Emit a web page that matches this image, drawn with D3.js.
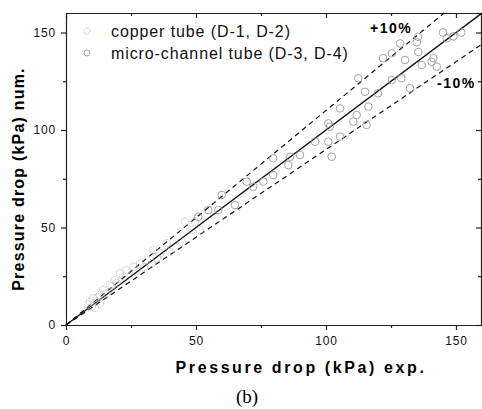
<!DOCTYPE html>
<html>
<head>
<meta charset="utf-8">
<script src="https://cdn.jsdelivr.net/npm/d3@7"></script>
<style>
  body { margin: 0; background: #fff; }
  svg { display: block; font-family: "Liberation Sans", Arial, sans-serif; }
  .axis path, .axis line { stroke: #222; stroke-width: 1.2; }
  .axis text { font-size: 12px; fill: #111; letter-spacing: 0.8px; }
</style>
</head>
<body>
<div id="chart"></div>
<script>
// tick values
const majorTicks = [0, 50, 100, 150];
const minorTicks = [25, 75, 125];

// [exp, num] pairs
const copperTube = [
  [9.2, 11.9], [9.9, 9.4], [10.5, 13.7], [11.8, 11.9], [13.1, 11.1], [13.1, 15.4],
  [14.3, 17.9], [16.9, 20.5], [18.8, 23.1], [20.8, 26.5], [23.3, 28.2], [25.9, 29.9],
  [28.5, 31.6], [31, 33.3], [33, 31.6], [33.6, 38.5], [36.2, 36.8], [38.7, 41.9],
  [40, 37.6], [44.5, 42.7], [45.8, 53], [48.3, 48.7], [49.6, 53], [51.5, 48.7],
  [8.5, 10.5], [12.2, 14.2], [15.5, 16.2], [17.5, 19.8], [22, 24.8], [27, 27.5],
  [30, 29.5], [35, 34.5], [11, 8.8], [19.5, 21.5]
];
const microChannel = [
  [50.9, 55.5], [54.7, 59], [58.6, 59], [59.9, 66.7], [65, 61.5], [69.5, 73.5],
  [72, 70.9], [75.9, 73.5], [79.7, 76.9], [79.7, 85.5], [85.5, 82], [86.2, 86.3],
  [90, 87.2], [95.8, 94], [100.9, 94], [100.9, 103.4], [101.5, 101.7], [102.2, 86.3],
  [105.4, 96.6], [105.4, 111.1], [110.5, 104.3], [111.8, 107.7], [112.4, 126.5],
  [115, 119.6], [115.6, 102.6], [116.3, 112], [120, 118.8], [122, 136.8], [125.3, 139.3],
  [125.3, 125.6], [128.5, 144.4], [129, 126.5], [130.4, 135.9], [132.3, 121.4],
  [134.9, 145], [135.4, 147.8], [135.5, 140], [136.8, 133.3], [140.6, 135], [141.3, 136.8],
  [142.6, 132.5], [145, 150], [146.4, 147], [149, 148], [152, 150]
];

const width = 482, height = 409;
const plotLeft = 66, plotRight = 482, plotTop = 13, plotBottom = 325;

const x = d3.scaleLinear().domain([0, 160]).range([plotLeft, plotRight]);
const y = d3.scaleLinear().domain([0, 160]).range([plotBottom, plotTop]);

const svg = d3.select('#chart').append('svg')
  .attr('width', width)
  .attr('height', height);

// --- Axes (major + minor, Origin style frame) ---
function drawAxis(axisFn, scale, transform, showLabels, inward) {
  const sign = inward ? -1 : 1;
  svg.append('g').attr('class', 'axis').attr('transform', transform)
    .call(axisFn(scale).tickValues(minorTicks).tickSize(3 * sign).tickFormat(''))
    .call(g => g.select('.domain').remove());
  const g = svg.append('g').attr('class', 'axis').attr('transform', transform)
    .call(axisFn(scale).tickValues(majorTicks).tickSize(5 * sign).tickSizeOuter(0)
      .tickPadding(inward ? 8 : 4)
      .tickFormat(showLabels ? d3.format('d') : ''));
  return g;
}

drawAxis(d3.axisBottom, x, `translate(0,${plotBottom})`, true, false)
  .selectAll('text').attr('dy', '0.9em');
drawAxis(d3.axisLeft, y, `translate(${plotLeft},0)`, true, false)
  .selectAll('text').attr('dx', '-1px');
drawAxis(d3.axisTop, x, `translate(0,${plotTop})`, false, true);
drawAxis(d3.axisRight, y, `translate(${plotRight - 1},0)`, false, true);

// --- Reference lines ---
const refLines = [
  { k: 1.0, dash: null },
  { k: 1.1, dash: '5,4' },
  { k: 0.9, dash: '5,4' }
];
refLines.forEach(r => {
  const xEnd = Math.min(160, 160 / r.k);
  svg.append('line')
    .attr('x1', x(0)).attr('y1', y(0))
    .attr('x2', x(xEnd)).attr('y2', y(xEnd * r.k))
    .attr('stroke', '#111')
    .attr('stroke-width', r.dash ? 1.2 : 1.4)
    .attr('stroke-dasharray', r.dash);
});

// --- Points ---
const series = [
  { name: 'copper tube (D-1, D-2)', data: copperTube, color: '#b4b4b4', dash: '1.2,1' },
  { name: 'micro-channel tube (D-3, D-4)', data: microChannel, color: '#9a9a9a', dash: null }
];

series.forEach(s => {
  svg.append('g').selectAll('circle')
    .data(s.data)
    .enter().append('circle')
    .attr('cx', d => x(d[0]))
    .attr('cy', d => y(d[1]))
    .attr('r', 3.8)
    .attr('fill', 'none')
    .attr('stroke', s.color)
    .attr('stroke-width', 0.9)
    .attr('stroke-dasharray', s.dash);
});

// --- Legend ---
const legend = svg.append('g').attr('transform', 'translate(87,31)');
series.forEach((s, i) => {
  const row = legend.append('g').attr('transform', `translate(0,${i * 22})`);
  row.append('circle')
    .attr('r', 3)
    .attr('fill', 'none')
    .attr('stroke', s.color)
    .attr('stroke-width', 0.9)
    .attr('stroke-dasharray', s.dash);
  row.append('text')
    .attr('x', 24).attr('dy', '0.35em')
    .style('font-size', '16px')
    .style('letter-spacing', '0.9px')
    .attr('fill', '#111')
    .text(s.name);
});

// --- Band labels ---
svg.append('text')
  .attr('x', 370).attr('y', 33)
  .style('font-size', '14px').style('font-weight', 'bold').style('letter-spacing', '1.5px')
  .text('+10%');
svg.append('text')
  .attr('x', 437).attr('y', 88)
  .style('font-size', '14px').style('font-weight', 'bold').style('letter-spacing', '1.5px')
  .text('-10%');

// --- Axis titles ---
svg.append('text')
  .attr('x', 301).attr('y', 373)
  .attr('text-anchor', 'middle')
  .style('font-size', '16px').style('font-weight', 'bold').style('letter-spacing', '2.6px')
  .text('Pressure drop (kPa) exp.');

svg.append('text')
  .attr('transform', 'translate(24,179) rotate(-90)')
  .attr('text-anchor', 'middle')
  .style('font-size', '16px').style('font-weight', 'bold').style('letter-spacing', '1.2px')
  .text('Pressure drop (kPa) num.');

svg.append('text')
  .attr('x', 247).attr('y', 403)
  .attr('text-anchor', 'middle')
  .style('font-family', '"Liberation Serif", "DejaVu Serif", serif')
  .style('font-size', '19px')
  .text('(b)');
</script>
</body>
</html>
